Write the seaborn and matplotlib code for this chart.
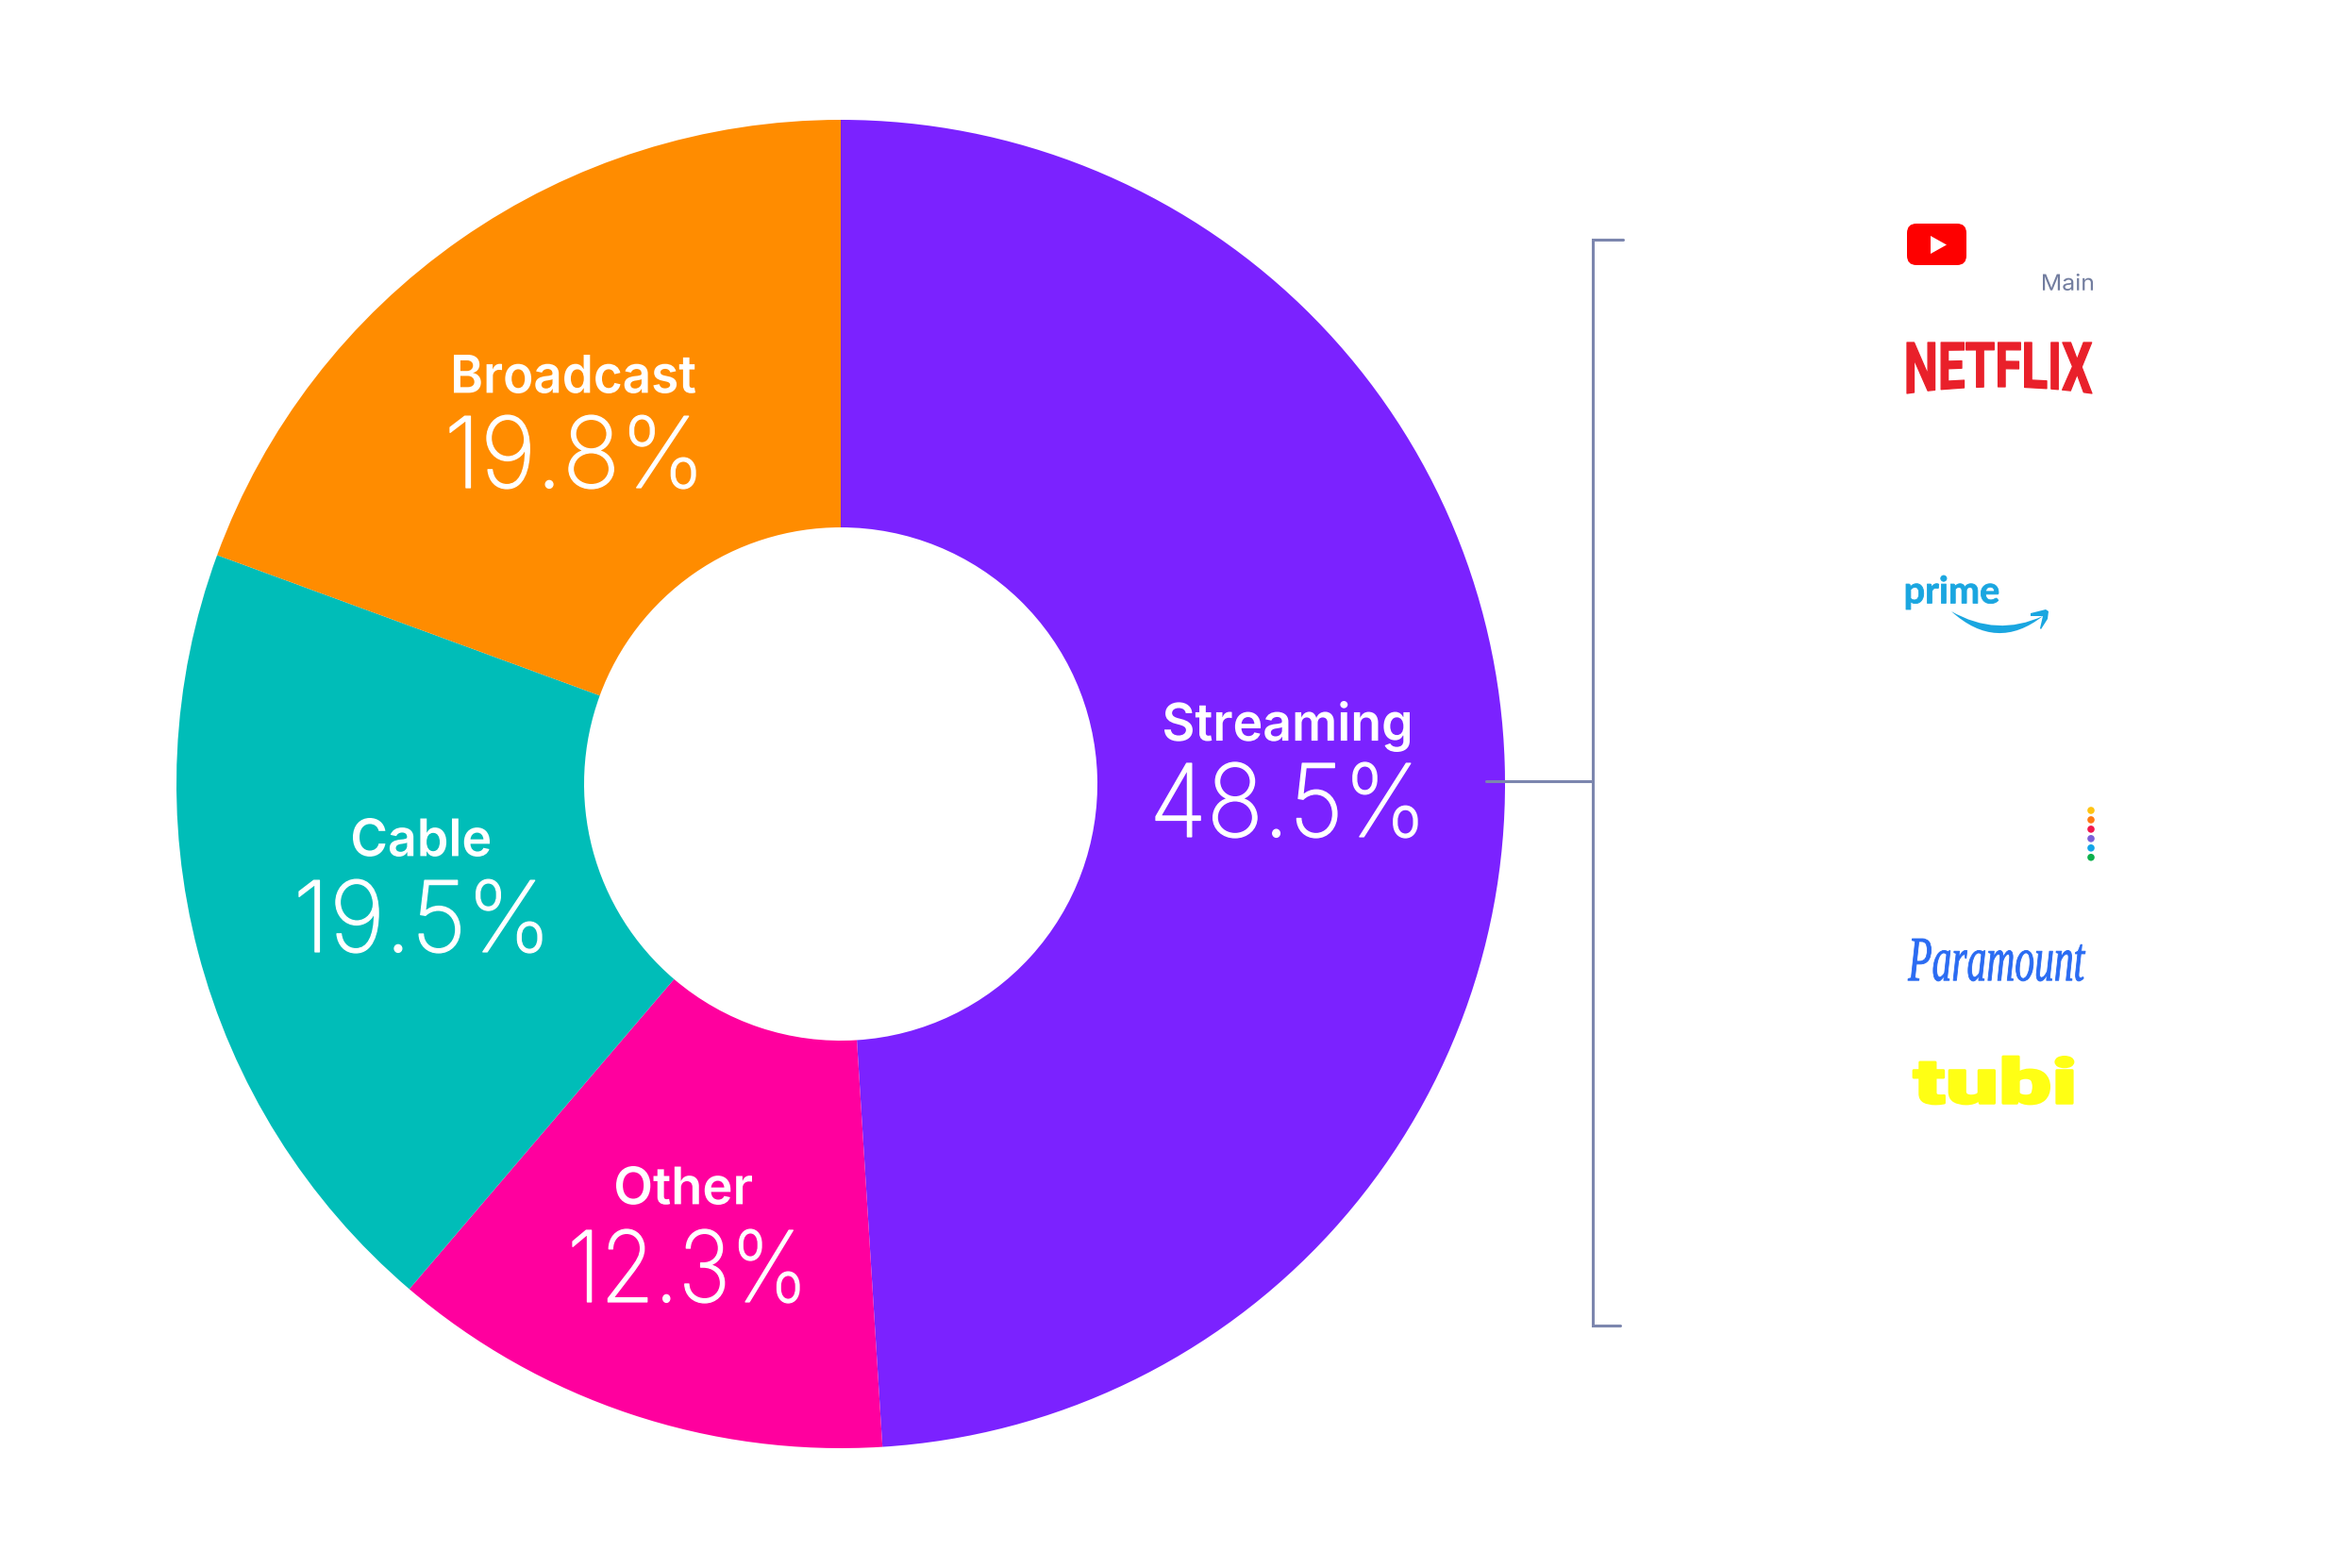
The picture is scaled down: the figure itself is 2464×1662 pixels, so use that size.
import matplotlib
matplotlib.use("Agg")
import numpy as np
import matplotlib.pyplot as plt
from matplotlib.patches import FancyBboxPatch, Polygon, Circle, PathPatch
from matplotlib.path import Path
from matplotlib.patheffects import AbstractPathEffect
from matplotlib.transforms import IdentityTransform
import seaborn as sns

categories = ["Streaming", "Other", "Cable", "Broadcast"]
drawn_shares = [49.0, 12.25, 19.35, 19.4]
share_labels = ["48.5%", "12.3%", "19.5%", "19.8%"]
slice_colors = ["#7B22FF", "#FF009E", "#00BDB8", "#FF8C00"]
dot_colors = ["#FFC413", "#FF7A13", "#F2174D", "#7B5FD9", "#12A5E8", "#0CB04C"]

# layout: pixel boxes (x0, x1, top, bottom) of the text ink
name_boxes = {"Streaming": (1234, 1494, 743, 797), "Other": (653, 797, 1236, 1277),
              "Cable": (374, 519, 867, 908), "Broadcast": (481, 737, 376, 417)}
pct_boxes = {"Streaming": (1225, 1502, 808, 888), "Other": (607, 847, 1303, 1381),
             "Cable": (317, 574, 932, 1010), "Broadcast": (477, 737, 440, 518)}

W, H = 2464, 1662
sns.set_theme(style="white")
plt.rcParams["font.family"] = ["Inter", "DejaVu Sans"]
fig = plt.figure(figsize=(W / 100, H / 100), dpi=100, facecolor="white")
ax = fig.add_axes([0, 0, 1, 1])
Y = lambda py: H - py


class FitBox(AbstractPathEffect):
    """Draw a real text object so that its ink fills a given pixel box."""
    def __init__(self, box, arc=0.0, stroke=0.0):
        super().__init__()
        self.box, self.arc, self.stroke = box, arc, stroke

    def draw_path(self, renderer, gc, tpath, affine, rgbFace=None):
        x0, x1, top, bottom = self.box
        v = affine.transform(tpath.vertices)
        codes = tpath.codes
        keep = codes != Path.CLOSEPOLY if codes is not None else np.ones(len(v), bool)
        lo, hi = v[keep].min(axis=0), v[keep].max(axis=0)
        out = v.copy()
        out[:, 0] = x0 + (v[:, 0] - lo[0]) / (hi[0] - lo[0]) * (x1 - x0)
        ytop, ybot = Y(top), Y(bottom)
        out[:, 1] = ybot + (v[:, 1] - lo[1]) / (hi[1] - lo[1]) * (ytop - ybot)
        if self.arc:
            d = (out[:, 0] - (x0 + x1) / 2) / ((x1 - x0) / 2)
            out[:, 1] = ytop - (ytop - out[:, 1]) * (1 + self.arc * d ** 2)
        path = Path(out, codes)
        gc0 = renderer.new_gc()
        gc0.copy_properties(gc)
        if self.stroke:
            gc0.set_foreground(rgbFace)
            gc0.set_linewidth(self.stroke)
        renderer.draw_path(gc0, path, IdentityTransform(), rgbFace)
        gc0.restore()


def boxed_text(s, box, color, size, arc=0.0, stroke=0.0, **kw):
    x0, x1, top, bottom = box
    ax.text((x0 + x1) / 2, Y((top + bottom) / 2), s, color=color, fontsize=size, ha="center", va="center",
            path_effects=[FitBox(box, arc, stroke)], **kw)


ax.pie(drawn_shares, colors=sns.color_palette(slice_colors), startangle=90, counterclock=False,
       center=(891, Y(831)), radius=704, wedgeprops=dict(width=432, linewidth=0))
ax.set_xlim(0, W)
ax.set_ylim(0, H)
ax.set_aspect("equal")
ax.axis("off")

for name, pct in zip(categories, share_labels):
    boxed_text(name, name_boxes[name], "white", 39, fontweight="semibold")
    boxed_text(pct, pct_boxes[name], "white", 72, stroke=0.9, fontweight="light")

LINE = "#7C86AE"
ax.plot([1720, 1688, 1688, 1717], [Y(254), Y(254), Y(1405), Y(1405)], color=LINE, lw=2.2, solid_joinstyle="miter")
ax.plot([1575, 1688], [Y(828), Y(828)], color=LINE, lw=2.2)

# YouTube
ax.add_patch(FancyBboxPatch((2031, Y(271)), 43, 24, boxstyle="round,pad=10,rounding_size=10", fc="#FE0000", ec="none"))
ax.add_patch(Polygon([(2046, Y(250)), (2046, Y(269)), (2063, Y(259.5))], fc="white", ec="none"))
boxed_text("Main", (2165, 2218, 290, 308), "#727D9F", 17)

# Netflix
boxed_text("NETFLIX", (2021, 2217, 363, 410), "#E9202A", 36, arc=0.149, stroke=0.9, fontweight="bold",
           family=["Roboto", "DejaVu Sans"])

# Prime
boxed_text("prime", (2020, 2118, 610, 646), "#1AA6E0", 29, stroke=0.6, fontweight="bold", family=["Lato", "DejaVu Sans"])
ax.add_patch(PathPatch(Path([(2068, Y(648)), (2116, Y(675.5)), (2165, Y(653)), (2116, Y(691.5)), (2068, Y(648))],
                            [Path.MOVETO, Path.CURVE3, Path.CURVE3, Path.CURVE3, Path.CURVE3]),
                       fc="#1AA6E0", ec="none"))
ax.add_patch(Polygon([(2152, Y(650)), (2168, Y(646)), (2171, Y(648)), (2170, Y(656)), (2163, Y(667)),
                      (2162, Y(666)), (2165, Y(653)), (2152, Y(653))], fc="#1AA6E0", ec="none"))

# Dots
for i, c in enumerate(dot_colors):
    ax.add_patch(Circle((2216, Y(859 + 9.95 * i)), 3.8, fc=c, ec="none"))

# Paramount
boxed_text("Paramount", (2022, 2210, 995, 1040), "#2A6BF2", 34, stroke=0.6, style="italic",
           family=["Liberation Serif", "DejaVu Serif"])

# Tubi
boxed_text("tubi", (2028, 2197, 1120, 1170), "#FFFF14", 50, stroke=2.0, fontweight="black", family=["Roboto", "DejaVu Sans"])

fig.savefig("out.png", dpi=100, facecolor="white")
